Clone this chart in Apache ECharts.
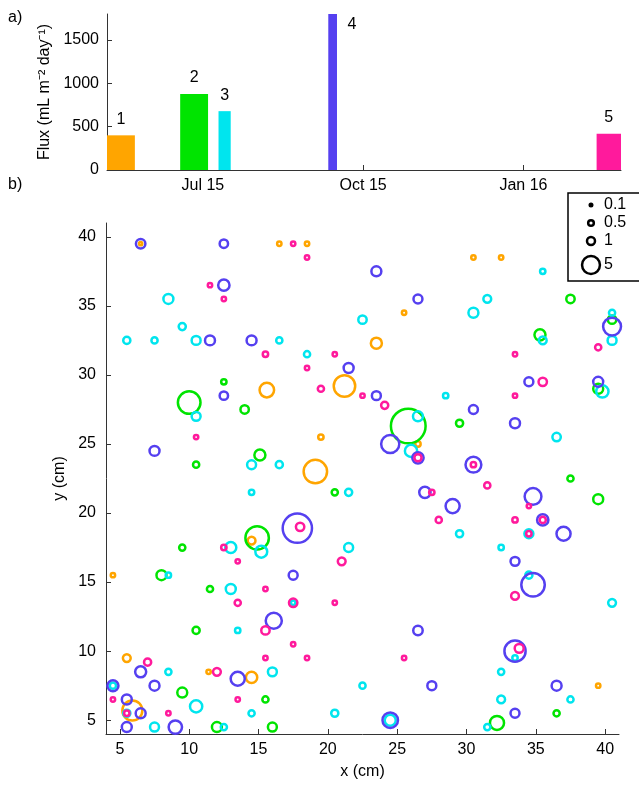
<!DOCTYPE html>
<html><head><meta charset="utf-8">
<script src="https://cdn.jsdelivr.net/npm/echarts@6/dist/echarts.min.js"></script>
<style>html,body{margin:0;padding:0;background:#fff}#c{width:639px;height:785px}</style>
</head><body><div id="c"></div>
<script>
// ---- Panel a: bulk flux per sampling campaign ----
const sampleLabels = ['1', '2', '3', '4', '5'];
const sampleColors = ['#FFA500', '#00E400', '#00E5EE', '#5540F0', '#FF1A9C'];
const barStart = ['2015-05-07', '2015-06-18', '2015-07-10', '2015-09-11', '2016-02-12'];
const barEnd   = ['2015-05-23', '2015-07-04', '2015-07-17', '2015-09-16', '2016-02-26'];
const barFlux  = [400, 876, 679, 1800, 417];
const fluxTicks = [0, 500, 1000, 1500];
const dateTicks = ['2015-07-01', '2015-10-01', '2016-01-01'];
const dateTickLabels = ['Jul 15', 'Oct 15', 'Jan 16'];
const dateMin = '2015-05-07', dateMax = '2016-02-26';

// ---- Panel b: spatial flux maps, [x (cm), y (cm), flux] ----
const xyTicks = [5, 10, 15, 20, 25, 30, 35, 40];
const legendFlux = [0.1, 0.5, 1, 5];
const samp1 = [[6.5,39.5,0.16],[16.5,39.5,0.3],[18.5,39.5,0.3],[25.5,34.5,0.3],[30.5,38.5,0.3],[32.5,38.5,0.3],
  [23.5,32.3,1.9],[15.6,28.9,3.3],[21.2,29.2,7.2],[19.5,25.5,0.45],[26.5,25,0.45],[19.1,23,8.6],[14.5,18,0.95],
  [4.5,15.5,0.3],[5.5,9.5,0.95],[11.4,8.5,0.3],[14.5,8.1,2],[5.9,5.7,6.25],[39.5,7.5,0.3]];
const samp2 = [[12.5,29.5,0.45],[10,28,8],[14,27.5,1.1],[10.5,23.5,0.6],[15.1,24.2,1.9],[9.5,17.5,0.6],
  [14.9,18.2,8.6],[25.8,26.3,18.8],[20.5,21.5,0.6],[37.5,35.5,1.1],[40.5,34,1.1],[35.3,32.9,1.9],[39.5,29,1.55],
  [29.5,26.5,0.8],[37.5,22.5,0.6],[39.5,21,1.55],[8,15.5,1.55],[11.5,14.5,0.6],[10.5,11.5,0.8],[9.5,7,1.55],
  [12,4.5,1.55],[15.5,6.5,0.6],[16,4.5,1.25],[36.5,5.5,0.6],[32.2,4.8,3.1]];
const samp3 = [[8.5,35.5,1.55],[5.5,32.5,0.8],[7.5,32.5,0.6],[9.5,33.5,0.8],[10.5,32.5,1.25],[22.5,34,1.1],
  [16.5,32.5,0.6],[18.5,31.5,0.6],[35.5,37.5,0.45],[31.5,35.5,0.95],[30.5,34.5,1.55],[40.5,34.5,0.6],[40.5,32.5,1.25],
  [35.5,32.5,0.95],[39.8,28.8,2.35],[28.5,28.5,0.45],[10.5,27,1.25],[14.5,23.5,1.25],[14.5,21.5,0.45],[13,17.5,1.9],
  [15.2,17.2,2.2],[26.5,27,1.55],[26,24.5,2.35],[16.5,23.5,0.8],[21.5,21.5,0.8],[21.5,17.5,1.25],[36.5,25.5,1.1],
  [29.5,18.5,0.8],[34.5,18.5,1.25],[32.5,17.5,0.45],[8.5,15.5,0.45],[13,14.5,1.55],[13.5,11.5,0.45],[8.5,8.5,0.6],
  [4.5,7.5,0.6],[10.5,6,2.35],[7.5,4.5,1.25],[12.5,4.5,0.6],[14.5,5.5,0.6],[17.5,13.5,0.3],[16,8.5,1.25],
  [22.5,7.5,0.6],[20.5,5.5,0.8],[24.5,5,1.9],[34.5,15.5,0.8],[40.5,13.5,0.95],[33.5,9.5,0.45],[32.5,8.5,0.6],
  [32.5,6.5,0.95],[37.5,6.5,0.6],[31.5,4.5,0.6],[5.5,5.5,0.8]];
const samp4 = [[6.5,39.5,1.4],[12.5,39.5,1.1],[12.5,36.5,2],[11.5,32.5,1.55],[14.5,32.5,1.55],[12.5,28.5,1.1],
  [23.5,37.5,1.55],[26.5,35.5,1.25],[21.5,30.5,1.55],[23.5,28.5,1.25],[40.5,33.5,5],[34.5,29.5,1.25],[39.5,29.5,1.55],
  [7.5,24.5,1.55],[24.5,25,5.15],[26.5,24,2],[27,21.5,2],[17.8,18.9,13.4],[30.5,27.5,1.25],[33.5,26.5,1.55],
  [30.5,23.5,3.9],[34.8,21.2,4.4],[29,20.5,3.1],[35.5,19.5,2],[37,18.5,3.1],[33.5,16.5,1.25],[6.5,8.5,1.9],
  [13.5,8,3.1],[4.5,7.5,1.9],[7.5,7.5,1.55],[5.5,6.5,1.55],[6.5,5.5,1.55],[5.5,4.5,1.55],[9,4.5,2.8],[17.5,15.5,1.25],
  [16.1,12.2,4.05],[26.5,11.5,1.4],[27.5,7.5,1.25],[24.5,5,3.75],[34.8,14.8,8.6],[33.5,10,7],[36.5,7.5,1.55],
  [33.5,5.5,1.25]];
const samp5 = [[11.5,36.5,0.3],[12.5,35.5,0.3],[17.5,39.5,0.3],[18.5,38.5,0.3],[15.5,31.5,0.45],[20.5,31.5,0.3],
  [18.5,30.5,0.3],[19.5,29,0.6],[22.5,28.5,0.3],[33.5,31.5,0.3],[39.5,32,0.6],[35.5,29.5,1.1],[33.5,28.5,0.3],
  [10.5,25.5,0.3],[24.1,27.8,0.8],[26.5,24,0.8],[27.5,21.5,0.45],[28,19.5,0.6],[18,19,1.1],[21,16.5,0.95],
  [12.5,17.5,0.45],[13.5,16.5,0.3],[30.5,23.5,0.45],[31.5,22,0.6],[34.5,20.5,0.3],[33.5,19.5,0.45],[35.5,19.5,0.6],
  [34.5,18.5,0.45],[13.5,13.5,0.6],[15.5,11.5,1.1],[7,9.2,0.8],[12,8.5,0.95],[4.5,6.5,0.3],[5.5,5.5,0.45],
  [8.5,5.5,0.3],[13.5,6.5,0.3],[15.5,14.5,0.3],[17.5,13.5,1.1],[20.5,13.5,0.3],[17.5,10.5,0.3],[15.5,9.5,0.3],
  [18.5,9.5,0.3],[25.5,9.5,0.3],[33.5,14,0.95],[33.8,10.2,1.25]];
const samples = [samp1, samp2, samp3, samp4, samp5];

const FONT = '"Liberation Sans", Arial, Helvetica, sans-serif';
const AXC = '#333';
const RING = 2.5;
const ms = d => +new Date(d + 'T00:00:00Z');
const sizeOf = f => 8 * Math.sqrt(f);   // ring diameter (px) ~ sqrt(flux)
const fluxMax = 1800;

const chart = echarts.init(document.getElementById('c'), null, {renderer: 'canvas'});

const axisCommon = {
  axisLine: {show: true, lineStyle: {color: AXC, width: 1}},
  axisTick: {show: true, inside: true, length: 5, lineStyle: {color: AXC}},
  axisLabel: {color: '#000', fontSize: 16, fontFamily: FONT},
  splitLine: {show: false},
  nameTextStyle: {color: '#000', fontSize: 16, fontFamily: FONT}
};

const dateTickMs = dateTicks.map(ms);
const barData = barFlux.map((v, i) => [ms(barStart[i]), ms(barEnd[i]), v]);

const scatterSeries = samples.map((arr, i) => ({
  type: 'scatter', xAxisIndex: 1, yAxisIndex: 1, name: sampleLabels[i],
  data: arr, symbol: 'circle',
  symbolSize: v => sizeOf(v[2]),
  itemStyle: {color: 'rgba(0,0,0,0)', borderColor: sampleColors[i], borderWidth: RING, opacity: 1},
  emphasis: {disabled: true}, silent: true, z: 2 + i
}));

// legend for ring size
const legendY = [205, 223, 241, 265];
const legendGraphics = [{type: 'rect', shape: {x: 568, y: 193, width: 90, height: 88},
  style: {fill: '#fff', stroke: '#000', lineWidth: 1.5}, z: 100}];
legendFlux.forEach((f, k) => {
  legendGraphics.push({type: 'circle', shape: {cx: 591, cy: legendY[k], r: sizeOf(f) / 2},
    style: {fill: 'none', stroke: '#000', lineWidth: RING}, z: 101});
  legendGraphics.push({type: 'text', x: 604, y: legendY[k],
    style: {text: String(f), font: '16px ' + FONT, fill: '#000', verticalAlign: 'middle', align: 'left'}, z: 101});
});

const option = {
  animation: false,
  backgroundColor: '#fff',
  grid: [
    {left: 107, top: 14, right: 18, height: 156},
    {left: 106, top: 223, width: 513, height: 514}
  ],
  xAxis: [
    Object.assign({}, axisCommon, {
      type: 'value', gridIndex: 0, min: ms(dateMin), max: ms(dateMax),
      axisTick: Object.assign({}, axisCommon.axisTick, {customValues: dateTickMs}),
      axisLabel: Object.assign({}, axisCommon.axisLabel, {customValues: dateTickMs, margin: 8,
        formatter: v => dateTickLabels[dateTickMs.indexOf(v)] || ''})
    }),
    Object.assign({}, axisCommon, {
      type: 'value', gridIndex: 1, min: 4, max: 41,
      name: 'x (cm)', nameLocation: 'middle', nameGap: 30,
      axisTick: Object.assign({}, axisCommon.axisTick, {customValues: xyTicks}),
      axisLabel: Object.assign({}, axisCommon.axisLabel, {customValues: xyTicks, margin: 8, formatter: v => String(v)})
    })
  ],
  yAxis: [
    Object.assign({}, axisCommon, {
      type: 'value', gridIndex: 0, min: 0, max: fluxMax,
      name: 'Flux (mL m\u207B\u00B2 day\u207B\u00B9)', nameLocation: 'middle', nameGap: 50,
      axisTick: Object.assign({}, axisCommon.axisTick, {customValues: fluxTicks}),
      axisLabel: Object.assign({}, axisCommon.axisLabel, {customValues: fluxTicks, margin: 8, formatter: v => String(v)})
    }),
    Object.assign({}, axisCommon, {
      type: 'value', gridIndex: 1, min: 4, max: 41,
      name: 'y (cm)', nameLocation: 'middle', nameGap: 35,
      axisTick: Object.assign({}, axisCommon.axisTick, {customValues: xyTicks}),
      axisLabel: Object.assign({}, axisCommon.axisLabel, {customValues: xyTicks, margin: 10, formatter: v => String(v)})
    })
  ],
  series: [
    {
      type: 'custom', xAxisIndex: 0, yAxisIndex: 0, data: barData,
      encode: {x: [0, 1], y: 2}, silent: true, clip: false,
      renderItem: function (params, api) {
        const i = params.dataIndex;
        const v = api.value(2);
        const p0 = api.coord([api.value(0), v]);
        const p1 = api.coord([api.value(1), 0]);
        const atTop = v >= fluxMax;
        return {type: 'group', children: [
          {type: 'rect', shape: {x: p0[0], y: p0[1], width: p1[0] - p0[0], height: p1[1] - p0[1]},
            style: {fill: sampleColors[i]}},
          {type: 'text', style: {text: sampleLabels[i],
            x: atTop ? p1[0] + 15 : (p0[0] + p1[0]) / 2, y: atTop ? p0[1] + 11 : p0[1] - 16,
            align: 'center', verticalAlign: 'middle', font: '16px ' + FONT, fill: '#000'}}
        ]};
      }
    }
  ].concat(scatterSeries),
  graphic: [
    {type: 'text', left: 8, top: 10, style: {text: 'a)', font: '16px ' + FONT, fill: '#000'}},
    {type: 'text', left: 8, top: 177, style: {text: 'b)', font: '16px ' + FONT, fill: '#000'}}
  ].concat(legendGraphics)
};
chart.setOption(option);
</script></body></html>
